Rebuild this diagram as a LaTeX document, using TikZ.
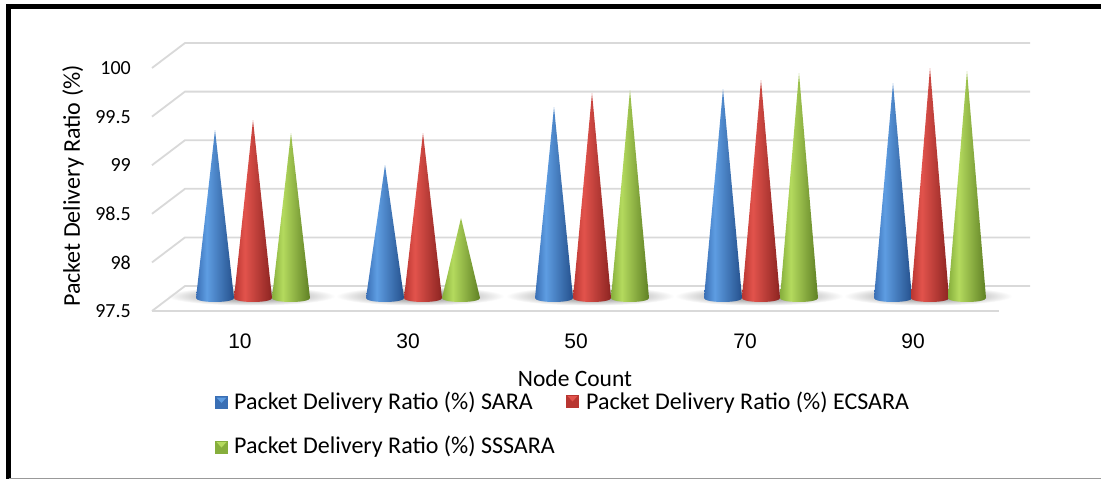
\documentclass[tikz,border=0pt]{standalone}
\usepackage{fontspec}
\setmainfont{Carlito}
\newfontfamily\arialf{Liberation Sans}
\definecolor{gridc}{HTML}{D9D9D9}
\definecolor{bL}{HTML}{3A6FB5}\definecolor{bM}{HTML}{5E9DE2}\definecolor{bR}{HTML}{24508C}
\definecolor{rL}{HTML}{B83631}\definecolor{rM}{HTML}{E2534C}\definecolor{rR}{HTML}{8C2421}
\definecolor{gL}{HTML}{86AE3C}\definecolor{gM}{HTML}{B4DA5E}\definecolor{gR}{HTML}{5F8024}
\pgfdeclarehorizontalshading{coneblue}{100bp}{color(0bp)=(bL); color(25bp)=(bL); color(39bp)=(bM); color(75bp)=(bR); color(100bp)=(bR)}
\pgfdeclarehorizontalshading{conered}{100bp}{color(0bp)=(rL); color(25bp)=(rL); color(39bp)=(rM); color(75bp)=(rR); color(100bp)=(rR)}
\pgfdeclarehorizontalshading{conegreen}{100bp}{color(0bp)=(gL); color(25bp)=(gL); color(39bp)=(gM); color(75bp)=(gR); color(100bp)=(gR)}
\newcommand{\mycone}[3]{%
  \path[shading=#3, shading angle=0] (#1-19,298) -- (#1,#2) -- (#1+19,298)
    .. controls (#1+19,303.3) and (#1-19,303.3) .. cycle;}
\newcommand{\myshadow}[1]{%
  \shade[inner color=black!55, outer color=white] (#1-2,296) ellipse (84 and 9.5);}
\newcommand{\mymark}[4]{% x, y(center), dark, light
  \fill[#3] (#1,#2-6.5) rectangle (#1+13,#2+6.5);
  \fill[#4] (#1+1.5,#2-5) -- (#1+11.5,#2-5) -- (#1+6.5,#2+0.5) -- cycle;}
\tikzset{
  gridline/.style={draw=gridc, line width=1.8pt},
  ticklab/.style={anchor=east, font=\fontsize{20}{24}\selectfont, inner sep=0pt},
  xlab/.style={font=\arialf\fontsize{21}{25}\selectfont, inner sep=0pt},
  legtext/.style={anchor=west, font=\fontsize{24}{28}\selectfont, inner sep=0pt},
}
\begin{document}
\begin{tikzpicture}[x=1pt, y=-1pt]
\useasboundingbox (0,0) rectangle (1101,479);
\fill[white] (0,0) rectangle (1101,479);
% frame
\draw[black, line width=5pt] (8.5,4) -- (8.5,479);
\draw[black, line width=5pt] (6,6.5) -- (1101,6.5);
\draw[gray!80, line width=1.2pt] (8.5,478.4) -- (1101,478.4);
% shadows
\foreach \cx in {253,422,592,761,930}{\myshadow{\cx}}
% grid
\foreach \k/\lab in {0/100,1/99.5,2/99,3/98.5,4/98,5/97.5}{
  \pgfmathsetmacro{\yb}{43+48.6*\k}
  \pgfmathsetmacro{\yf}{68+48.6*\k}
  \draw[gridline] (152,\yf) -- (185,\yb) -- (1030,\yb);
  \node[ticklab] (tick\k) at (131,\yf) {\lab};
}
\draw[gridline] (152,311) -- (999,311);
% cones
\mycone{215}{130}{coneblue}\mycone{253}{120}{conered}\mycone{291}{133}{conegreen}
\mycone{385}{165}{coneblue}\mycone{423}{133}{conered}\mycone{461}{218}{conegreen}
\mycone{554}{107}{coneblue}\mycone{592}{93}{conered}\mycone{630}{90}{conegreen}
\mycone{723}{89}{coneblue}\mycone{761}{80}{conered}\mycone{799}{73}{conegreen}
\mycone{893}{83}{coneblue}\mycone{930}{68}{conered}\mycone{967}{71}{conegreen}
% x labels
\node[xlab] (x10) at (240,341) {10};
\node[xlab] (x30) at (408,341) {30};
\node[xlab] (x50) at (576,341) {50};
\node[xlab] (x70) at (745,341) {70};
\node[xlab] (x90) at (913,341) {90};
% axis titles
\node[font=\fontsize{24}{28}\selectfont, rotate=90, inner sep=0pt] (ytitle) at (73,186) {Packet Delivery Ratio (\%)};
\node[font=\fontsize{23.5}{27}\selectfont, inner sep=0pt] (xtitle) at (575,378) {Node Count};
% legend
\mymark{215}{402.5}{bL}{bM}
\node[legtext] (leg1) at (234,403) {Packet Delivery Ratio (\%) SARA};
\mymark{566}{401}{rL}{rM}
\node[legtext] (leg2) at (586,403) {Packet Delivery Ratio (\%) ECSARA};
\mymark{215}{447}{gL}{gM}
\node[legtext] (leg3) at (234,447) {Packet Delivery Ratio (\%) SSSARA};
\end{tikzpicture}
\end{document}
